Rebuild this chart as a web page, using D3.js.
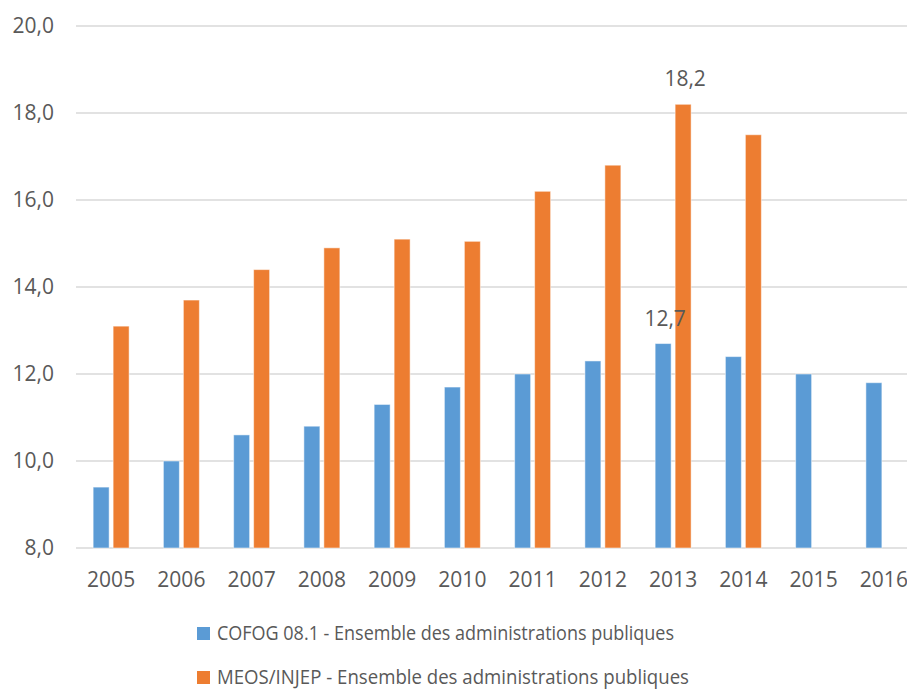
<!DOCTYPE html>
<html>
<head>
<meta charset="utf-8">
<script src="https://cdnjs.cloudflare.com/ajax/libs/d3/7.8.5/d3.min.js"></script>
<style>
  body { margin: 0; background: #fff; }
  #chart { width: 907px; height: 689px; overflow: hidden; }
  text { font-family: "Open Sans", sans-serif; fill: #595959; }
</style>
</head>
<body>
<div id="chart"></div>
<script>

var years = ["2005", "2006", "2007", "2008", "2009", "2010", "2011", "2012", "2013", "2014", "2015", "2016"];
var seriesNames = ["COFOG 08.1 - Ensemble des administrations publiques", "MEOS/INJEP - Ensemble des administrations publiques"];
var cofog = [9.4, 10.0, 10.6, 10.8, 11.3, 11.7, 12.0, 12.3, 12.7, 12.4, 12.0, 11.8];
var meos = [13.1, 13.7, 14.4, 14.9, 15.1, 15.05, 16.2, 16.8, 18.2, 17.5, null, null];
var yTicks = [8, 10, 12, 14, 16, 18, 20];
var labelYears = ["2013"];
var colors = ["#5B9BD5", "#ED7D31"];

var width = 907, height = 689;
var fs = 21;

var svg = d3.select("#chart").append("svg")
	.attr("width", width)
	.attr("height", height);

// plot runs past the right edge, as in the original export
var x = d3.scaleBand().domain(years).range([76, 919]).paddingInner(0.488).paddingOuter(0.244);
var xs = d3.scaleBand().domain([0, 1]).range([0, x.bandwidth()]).paddingInner(0.2);
var y = d3.scaleLinear().domain([8, 20]).range([548, 26]);

var fmt = function(v) { return d3.format(".1f")(v).replace(".", ","); };

// gridlines
svg.append("g").selectAll("line").data(yTicks).enter().append("line")
	.attr("x1", 76).attr("x2", width)
	.attr("y1", function(d) { return y(d); }).attr("y2", function(d) { return y(d); })
	.attr("stroke", "#d9d9d9").attr("stroke-width", 1.5);

// y axis labels
var yAxis = svg.append("g").attr("transform", "translate(54,0)")
	.call(d3.axisLeft(y).tickValues(yTicks).tickFormat(fmt).tickSize(0).tickPadding(0));
yAxis.select(".domain").remove();
yAxis.selectAll("text").attr("font-size", fs).attr("fill", "#595959").attr("font-family", null);

// x axis labels
var xAxis = svg.append("g").attr("transform", "translate(0,548)")
	.call(d3.axisBottom(x).tickSize(0).tickPadding(24));
xAxis.select(".domain").remove();
xAxis.selectAll("text").attr("font-size", fs).attr("fill", "#595959").attr("font-family", null);

var table = years.map(function(yr, i) { return { year: yr, vals: [cofog[i], meos[i]] }; });

var groups = svg.append("g").selectAll("g").data(table).enter().append("g")
	.attr("transform", function(d) { return "translate(" + x(d.year) + ",0)"; });

groups.selectAll("rect").data(function(d) {
		return d.vals.map(function(v, k) { return { k: k, v: v, year: d.year }; }).filter(function(e) { return e.v != null; });
	}).enter().append("rect")
	.attr("x", function(d) { return xs(d.k); })
	.attr("width", xs.bandwidth())
	.attr("y", function(d) { return y(d.v); })
	.attr("height", function(d) { return y(8) - y(d.v); })
	.attr("fill", function(d) { return colors[d.k]; })
	.attr("stroke", "#fff").attr("stroke-opacity", 0.5).attr("stroke-width", 1);

// data labels for 2013 only
groups.filter(function(d) { return labelYears.indexOf(d.year) >= 0; })
	.selectAll("text.lbl").data(function(d) {
		return d.vals.map(function(v, k) { return { k: k, v: v }; });
	}).enter().append("text")
	.attr("class", "lbl")
	.attr("x", function(d) { return xs(d.k) + xs.bandwidth() / 2 + 2; })
	.attr("y", function(d) { return y(d.v) - 18; })
	.attr("text-anchor", "middle")
	.attr("font-size", fs)
	.attr("fill", "#404040")
	.text(function(d) { return fmt(d.v); });

// legend (text squeezed a little: the original font is narrower)
var legend = svg.append("g").selectAll("g").data(seriesNames).enter().append("g")
	.attr("transform", function(d, i) { return "translate(197," + (627 + i * 44) + ")"; });
legend.append("rect").attr("width", 13).attr("height", 13)
	.attr("fill", function(d, i) { return colors[i]; });
legend.append("text").attr("x", 20).attr("y", 13)
	.attr("font-size", 20).attr("fill", "#595959")
	.attr("textLength", function(d, i) { return i ? 472 : 457; })
	.attr("lengthAdjust", "spacingAndGlyphs")
	.text(function(d) { return d; });

</script>
</body>
</html>
